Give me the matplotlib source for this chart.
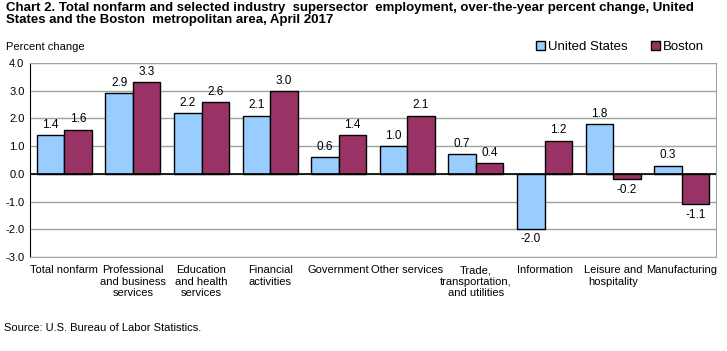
import numpy as np
import matplotlib
matplotlib.use("Agg")
from matplotlib import pyplot as plt

plt.rcParams['font.family'] = ['Liberation Sans', 'DejaVu Sans']

categories = ["Total nonfarm", "Professional\nand business\nservices", "Education\nand health\nservices",
              "Financial\nactivities", "Government", "Other services", "Trade,\ntransportation,\nand utilities",
              "Information", "Leisure and\nhospitality", "Manufacturing"]
us = [1.4, 2.9, 2.2, 2.1, 0.6, 1.0, 0.7, -2.0, 1.8, 0.3]
boston = [1.6, 3.3, 2.6, 3.0, 1.4, 2.1, 0.4, 1.2, -0.2, -1.1]

fig = plt.figure(figsize=(7.27, 3.51), dpi=100)
ax = fig.add_axes([30/727, 1-257/351, 686/727, 194/351])

x = np.arange(len(categories))
w = 0.4
grid_c = "#9aa89a"

b1 = ax.bar(x - w/2, us, w, color="#99ccff", edgecolor="black", linewidth=1, label="United States", zorder=3)
b2 = ax.bar(x + w/2, boston, w, color="#993366", edgecolor="black", linewidth=1, label="Boston", zorder=3)

for bars, vals in [(b1, us), (b2, boston)]:
    for bar, v in zip(bars, vals):
        cx = bar.get_x() + bar.get_width()/2
        if v >= 0:
            ax.annotate(f"{v:.1f}", (cx, v), xytext=(0, 3), textcoords="offset points",
                        ha="center", va="bottom", fontsize=8.5)
        else:
            ax.annotate(f"{v:.1f}", (cx, v), xytext=(0, -3), textcoords="offset points",
                        ha="center", va="top", fontsize=8.5)

ax.set_xlim(-0.5, len(categories) - 0.5)
ax.set_ylim(-3, 4)
ax.set_yticks(np.arange(-3, 5, 1))
ax.set_yticklabels([f"{t:.1f}" for t in np.arange(-3, 5, 1)], fontsize=8)
ax.set_xticks(x)
ax.set_xticklabels(categories, fontsize=8, linespacing=1.15, va="top")
ax.tick_params(axis="x", length=0, pad=6)
ax.tick_params(axis="y", length=0, pad=4)

ax.yaxis.grid(True, color=grid_c, linewidth=1, zorder=0)
ax.axhline(0, color="black", linewidth=1.2, zorder=4)
ax.spines["left"].set_color("black")
ax.spines["top"].set_color(grid_c)
ax.spines["right"].set_color(grid_c)
ax.spines["bottom"].set_color(grid_c)

fig.text(6/727, 1-14/351, "Chart 2. Total nonfarm and selected industry  supersector  employment, over-the-year percent change, United\nStates and the Boston  metropolitan area, April 2017",
         fontsize=9.5, fontweight="bold", va="center", linespacing=1.05)
fig.text(6/727, 1-47/351, "Percent change", fontsize=8, va="center")
fig.text(4/727, 1-328/351, "Source: U.S. Bureau of Labor Statistics.", fontsize=8, va="center")

fig.legend(loc="center", bbox_to_anchor=(620/727, 1-47/351), ncol=2, frameon=False, fontsize=9.5,
           handlelength=0.7, handleheight=0.7, handletextpad=0.2, columnspacing=1.8, borderpad=0)

fig.savefig("out.png", dpi=100)
